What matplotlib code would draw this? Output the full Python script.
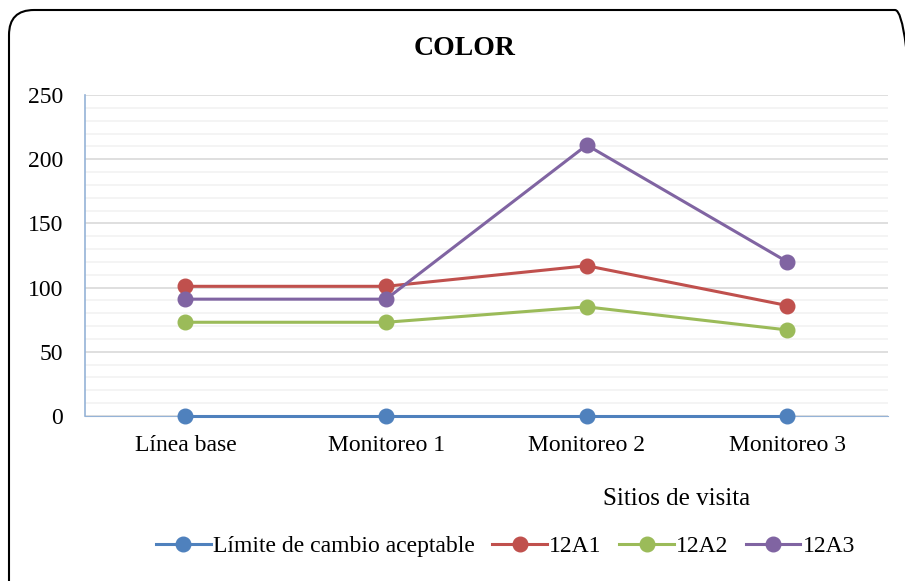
import matplotlib
matplotlib.use("Agg")
import matplotlib.pyplot as plt
from matplotlib.patches import FancyBboxPatch

plt.rcParams['font.family'] = ['Liberation Serif', 'DejaVu Serif']

categorias = ['Línea base', 'Monitoreo 1', 'Monitoreo 2', 'Monitoreo 3']
limite = [0, 0, 0, 0]
a1 = [101, 101, 117, 86]
a2 = [73, 73, 85, 67]
a3 = [91, 91, 211, 120]
nombres = ['Límite de cambio aceptable', '12A1', '12A2', '12A3']
colores = ['#4F81BD', '#C0504D', '#9BBB59', '#8064A2']

fig = plt.figure(figsize=(9.05, 5.81), dpi=100)
ax = fig.add_axes([0.094, 0.284, 0.887, 0.5525])

x = list(range(len(categorias)))
for serie, nombre, c in zip([limite, a1, a2, a3], nombres, colores):
    ax.plot(x, serie, color=c, lw=2.2, marker='o', markersize=10.5,
            label=nombre, clip_on=False, zorder=3)

ax.set_xlim(-0.5, 3.5)
ax.set_ylim(0, 250)
ax.set_yticks(range(0, 251, 50))
ax.set_yticks(range(0, 251, 10), minor=True)
ax.set_xticks(x)
ax.set_xticklabels(categorias)
ax.tick_params(axis='both', which='both', length=0, labelsize=17)
ax.tick_params(axis='y', pad=16)
ax.tick_params(axis='x', pad=14)
ax.grid(axis='y', which='major', color='#D9D9D9', lw=1.2)
ax.grid(axis='y', which='minor', color='#F2F2F2', lw=1.2)
ax.set_axisbelow(True)
for s in ['top', 'right']:
    ax.spines[s].set_visible(False)
ax.spines['left'].set_color('#95B3D7')
ax.spines['bottom'].set_color('#95B3D7')
ax.spines['left'].set_linewidth(1.2)

fig.text(0.513, 0.916, 'COLOR', fontsize=20, fontweight='bold', ha='center', va='center')
ax.set_xlabel('Sitios de visita', fontsize=18)
ax.xaxis.set_label_coords(0.737, -0.225)

ax.legend(loc='center', bbox_to_anchor=(0.524, -0.405), ncol=4, frameon=False,
          fontsize=17, handlelength=2.3, handletextpad=0.1, columnspacing=0.75,
          borderaxespad=0)

# marco redondeado, recortado por la derecha y abajo
borde = FancyBboxPatch((0.09, -0.25), 9.11, 5.96, boxstyle='round,pad=0,rounding_size=0.25',
                       transform=fig.dpi_scale_trans, fill=False, edgecolor='black', lw=1.5)
fig.patches.append(borde)

fig.savefig('out.png', dpi=100)
